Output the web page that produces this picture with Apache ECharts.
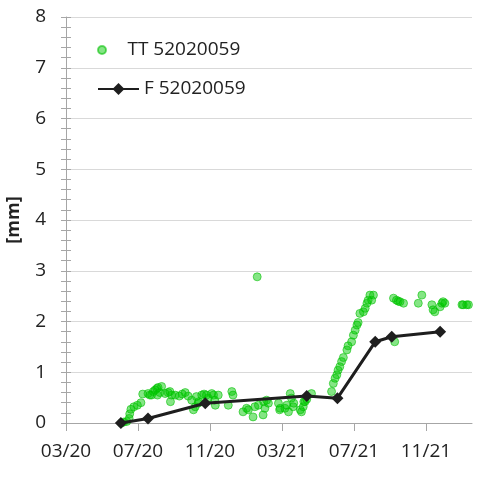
<!DOCTYPE html>
<html><head><meta charset="utf-8">
<script src="https://cdn.jsdelivr.net/npm/echarts@6/dist/echarts.min.js"></script>
<style>html,body{margin:0;padding:0;background:#fff}#c{width:480px;height:477px}</style>
</head><body><div id="c"></div>
<script>
const seriesNames = ['TT 52020059', 'F 52020059'];
const yAxisName = '[mm]';
const xTickLabels = ['03/20', '07/20', '11/20', '03/21', '07/21', '11/21'];

const ttDates = ['2020-06-03','2020-06-07','2020-06-12','2020-06-16','2020-06-17','2020-06-19','2020-06-24','2020-06-30','2020-07-06','2020-07-09',
'2020-07-18','2020-07-21','2020-07-24','2020-07-27','2020-07-30','2020-08-02','2020-08-03','2020-08-04','2020-08-07','2020-08-10',
'2020-08-16','2020-08-21','2020-08-24','2020-08-25','2020-08-27','2020-09-02','2020-09-09','2020-09-14','2020-09-19','2020-09-24',
'2020-09-30','2020-10-03','2020-10-06','2020-10-08','2020-10-11','2020-10-12','2020-10-17','2020-10-21','2020-10-25','2020-10-28',
'2020-11-03','2020-11-06','2020-11-08','2020-11-09','2020-11-14','2020-12-01','2020-12-07','2020-12-09','2020-12-26','2021-01-01',
'2021-01-04','2021-01-12','2021-01-15','2021-01-19','2021-01-21','2021-01-29','2021-01-30','2021-02-01','2021-02-04','2021-02-07',
'2021-02-24','2021-02-26','2021-02-27','2021-03-07','2021-03-10','2021-03-13','2021-03-16','2021-03-18','2021-03-21','2021-03-22',
'2021-04-02','2021-04-04','2021-04-07','2021-04-08','2021-04-10','2021-04-13','2021-04-21','2021-05-25','2021-05-28','2021-05-31',
'2021-06-03','2021-06-05','2021-06-08','2021-06-11','2021-06-14','2021-06-20','2021-06-22','2021-06-28','2021-07-01','2021-07-04',
'2021-07-07','2021-07-09','2021-07-12','2021-07-18','2021-07-21','2021-07-24','2021-07-26','2021-07-29','2021-08-01','2021-08-04',
'2021-09-07','2021-09-09','2021-09-12','2021-09-15','2021-09-18','2021-09-24','2021-10-19','2021-10-25','2021-11-11','2021-11-13',
'2021-11-16','2021-11-25','2021-11-28','2021-11-30','2021-12-03','2022-01-01','2022-01-03','2022-01-09','2022-01-12'];
const ttValues = [0.00,0.02,0.03,0.09,0.18,0.27,0.32,0.35,0.40,0.57,
0.58,0.55,0.55,0.62,0.65,0.68,0.55,0.70,0.60,0.72,
0.58,0.60,0.62,0.42,0.55,0.55,0.53,0.57,0.60,0.53,
0.45,0.26,0.32,0.52,0.39,0.42,0.55,0.57,0.55,0.49,
0.58,0.55,0.45,0.35,0.55,0.35,0.62,0.55,0.22,0.29,
0.26,0.12,0.32,2.88,0.35,0.16,0.42,0.29,0.45,0.39,
0.39,0.26,0.29,0.29,0.35,0.22,0.58,0.49,0.32,0.39,
0.26,0.22,0.32,0.42,0.42,0.47,0.58,0.62,0.78,0.88,
0.95,1.04,1.11,1.21,1.29,1.44,1.52,1.60,1.73,1.83,
1.93,1.98,2.16,2.19,2.26,2.36,2.42,2.52,2.42,2.52,
2.46,1.60,2.42,2.40,2.39,2.36,2.36,2.52,2.33,2.23,
2.19,2.29,2.36,2.39,2.36,2.33,2.33,2.33,2.33];

const fDates = ['2020-06-02','2020-07-18','2020-10-23','2021-04-13','2021-06-04','2021-08-07','2021-09-04','2021-11-25'];
const fValues = [0.00, 0.09, 0.39, 0.53, 0.49, 1.60, 1.70, 1.80];

const BASE = Date.UTC(2020, 2, 1);
function dayOffset(s) { const p = s.split('-'); return (Date.UTC(+p[0], +p[1] - 1, +p[2]) - BASE) / 86400000; }
const TICK_STEP = 122;
const xTickValues = xTickLabels.map((_, i) => i * TICK_STEP);

const ttData = ttDates.map((d, i) => [dayOffset(d), ttValues[i]]);
const fData = fDates.map((d, i) => [dayOffset(d), fValues[i]]);

const FONT = 'Open Sans';
const AX = '#a6a6a6';
const chart = echarts.init(document.getElementById('c'), null, { renderer: 'canvas' });
chart.setOption({
  animation: false,
  backgroundColor: '#fff',
  textStyle: { fontFamily: FONT },
  grid: { left: 66, right: 8, top: 17, bottom: 54, containLabel: false, outerBoundsMode: 'none' },
  legend: [
    { data: [seriesNames[0]], orient: 'vertical', left: 92, top: 34, itemWidth: 41, itemHeight: 8, itemGap: 0,
      textStyle: { fontFamily: FONT, fontSize: 19, color: '#222', lineHeight: 22 } },
    { data: [seriesNames[1]], orient: 'vertical', left: 92, top: 73, itemWidth: 41, itemHeight: 15, itemGap: 0,
      textStyle: { fontFamily: FONT, fontSize: 19, color: '#222', lineHeight: 22 } }
  ],
  xAxis: {
    type: 'value', min: 0, max: 688, interval: TICK_STEP,
    axisLine: { show: true, lineStyle: { color: AX, width: 1 } },
    axisTick: { show: true, length: 8, lineStyle: { color: AX }, customValues: xTickValues },
    axisLabel: { customValues: xTickValues, margin: 19, fontSize: 19, color: '#222', fontFamily: FONT,
      formatter: v => xTickLabels[Math.round(v / TICK_STEP)] || '' },
    splitLine: { show: false }
  },
  yAxis: [
    {
      type: 'value', min: 0, max: 8, interval: 1,
      name: yAxisName, nameLocation: 'middle', nameGap: 43, nameRotate: 90,
      nameTextStyle: { fontFamily: FONT, fontSize: 18, fontWeight: 'bold', color: '#222' },
      axisLine: { show: true, lineStyle: { color: AX, width: 1 } },
      axisTick: { show: true, length: 5, lineStyle: { color: AX } },
      minorTick: { show: true, splitNumber: 5, length: 5, lineStyle: { color: AX } },
      axisLabel: { margin: 20, fontSize: 19, color: '#222', fontFamily: FONT },
      splitLine: { show: true, lineStyle: { color: '#d9d9d9', width: 1 } }
    },
    {
      type: 'value', min: 0, max: 8, interval: 1, position: 'left', offset: 0,
      axisLine: { show: false },
      axisTick: { show: true, inside: true, length: 5, lineStyle: { color: AX } },
      minorTick: { show: true, splitNumber: 5, length: 5, lineStyle: { color: AX } },
      axisLabel: { show: false },
      splitLine: { show: false }
    }
  ],
  series: [
    {
      name: seriesNames[0], type: 'scatter', data: ttData, symbol: 'circle', symbolSize: 8,
      itemStyle: { color: 'rgba(0,200,0,0.6)', borderColor: 'rgba(0,190,0,0.7)', borderWidth: 1 }
    },
    {
      name: seriesNames[1], type: 'line', data: fData, symbol: 'diamond', symbolSize: 12,
      lineStyle: { color: '#1e1e1e', width: 3 },
      itemStyle: { color: '#1e1e1e' }
    }
  ]
});
</script>
</body></html>
